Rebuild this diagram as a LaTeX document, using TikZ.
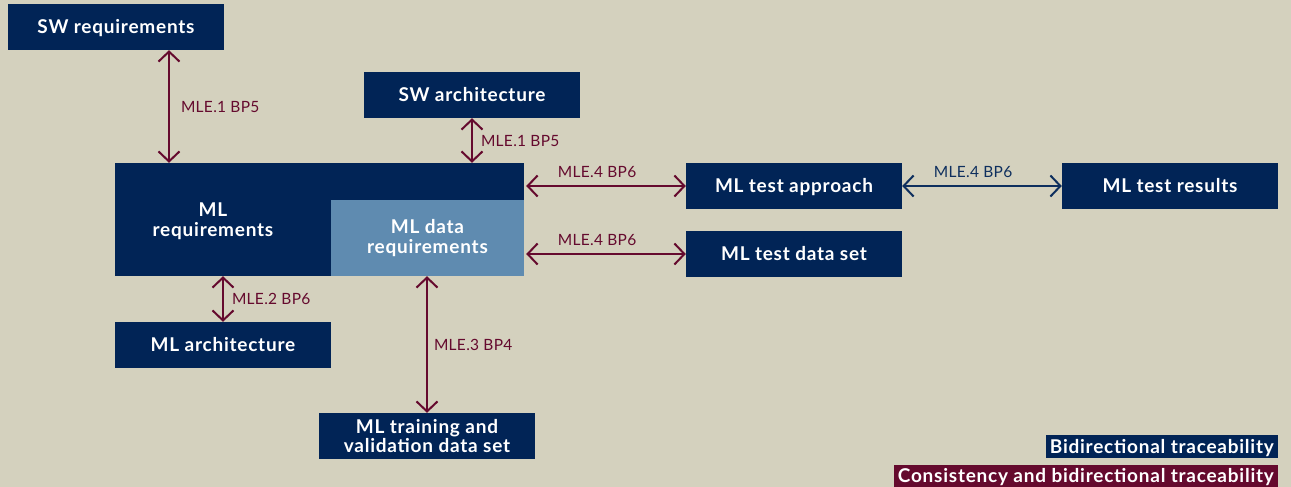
\documentclass[tikz,border=0pt]{standalone}
\usepackage{fontspec}
\setmainfont{Lato}
\newfontfamily\boxfont[LetterSpace=4]{Lato}
\newfontfamily\lblfont[LetterSpace=2]{Lato}
\usetikzlibrary{arrows.meta}
\definecolor{bg}{HTML}{D4D1BE}
\definecolor{navy}{HTML}{012456}
\definecolor{lightblue}{HTML}{5F8BB0}
\definecolor{maroon}{HTML}{650A2E}
\definecolor{barrow}{HTML}{0E2F5E}
\begin{document}
\begin{tikzpicture}[x=1pt,y=-1pt,
 box/.style={fill=navy, text=white, font=\boxfont\fontsize{19}{19.5}\selectfont\bfseries, minimum width=216pt, minimum height=46pt, inner sep=0pt, align=center},
 oneline/.style={text height=13.7pt, text depth=0pt},
 cons/.style={draw=maroon, line width=2pt, {Straight Barb[length=10pt,width=21pt]}-{Straight Barb[length=10pt,width=21pt]}},
 bidi/.style={cons, draw=barrow},
 lbl/.style={font=\lblfont\fontsize{15.5}{18}\selectfont, text=maroon, inner sep=0pt},
 legend/.style={anchor=east, text=white, font=\boxfont\fontsize{19}{19}\selectfont\bfseries, inner xsep=4pt, inner ysep=0pt, text height=13.7pt, text depth=0pt, minimum height=23pt}]
\fill[bg] (0,0) rectangle (1291,487);
\useasboundingbox (0,0) rectangle (1291,487);

\node[box, oneline] (swreq) at (116,27) {SW requirements};
\node[box, oneline] (swarch) at (472,95) {SW architecture};
\node[fill=navy, minimum width=409pt, minimum height=113pt, inner sep=0pt] (mlreq) at (319.5,219.5) {};
\node[box, fill=lightblue, minimum width=193pt, minimum height=76pt] (mldata) at (427.5,238) {ML data\\requirements};
\node[text=white, font=\boxfont\fontsize{19}{19.5}\selectfont\bfseries, align=center, inner sep=0pt] (mltext) at (213,221) {ML\\requirements};
\node[box, oneline] (tapp) at (794,186) {ML test approach};
\node[box, oneline] (tdata) at (794,254) {ML test data set};
\node[box, oneline] (tres) at (1170,186) {ML test results};
\node[box, oneline] (mlarch) at (223,345) {ML architecture};
\node[box] (train) at (427,436) {ML training and\\validation data set};

\node[legend, fill=navy] (leg1) at (1278,446.5) {Bidirectional traceability};
\node[legend, fill=maroon, minimum height=22pt] (leg2) at (1278,476) {Consistency and bidirectional traceability};

\draw[cons] ([xshift=53pt]swreq.south) -- ([xshift=53pt]swreq.south |- mlreq.north)
  node[lbl, midway, anchor=west, xshift=11pt] {MLE.1 BP5};
\draw[cons] (swarch.south) -- (swarch.south |- mlreq.north)
  node[lbl, midway, anchor=west, xshift=8pt] {MLE.1 BP5};
\draw[cons] ([xshift=2pt]mlreq.east |- tapp.west) -- (tapp.west)
  node[lbl, midway, anchor=south, xshift=-9pt, yshift=7pt] {MLE.4 BP6};
\draw[cons] ([xshift=2pt]mldata.east |- tdata.west) -- (tdata.west)
  node[lbl, midway, anchor=south, xshift=-9pt, yshift=7pt] {MLE.4 BP6};
\draw[bidi] (tapp.east) -- (tres.west)
  node[lbl, text=barrow, midway, anchor=south, xshift=-9pt, yshift=7pt] {MLE.4 BP6};
\draw[cons] (mlarch.north) -- (mlarch.north |- mlreq.south)
  node[lbl, midway, anchor=west, xshift=8pt] {MLE.2 BP6};
\draw[cons] (train.north) -- (train.north |- mldata.south)
  node[lbl, midway, anchor=west, xshift=6pt] {MLE.3 BP4};
\end{tikzpicture}
\end{document}
